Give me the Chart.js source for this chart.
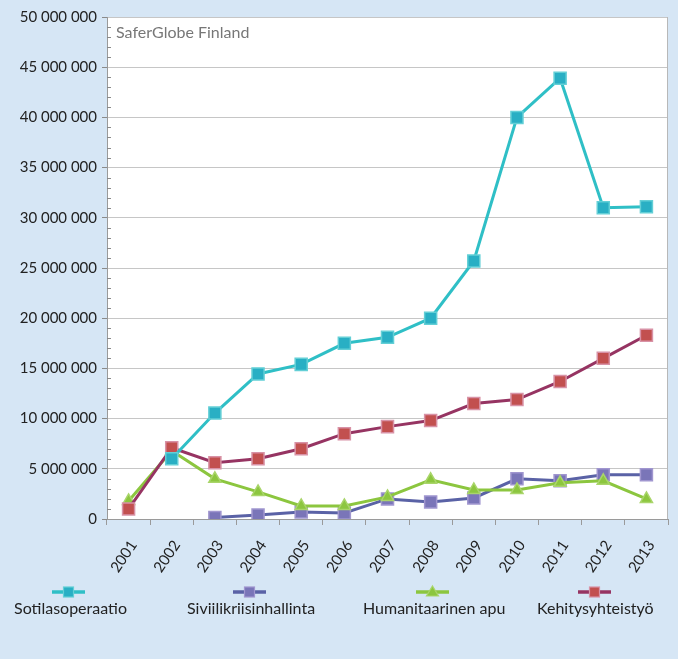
<!DOCTYPE html>
<html><head><meta charset="utf-8">
<script src="https://cdn.jsdelivr.net/npm/chart.js@4"></script>
<style>html,body{margin:0;padding:0;background:#d6e6f5;}#wrap{width:678px;height:659px;position:relative;}</style>
</head><body><div id="wrap"><canvas id="c" width="678" height="659"></canvas></div>
<script>
const years = ['2001','2002','2003','2004','2005','2006','2007','2008','2009','2010','2011','2012','2013'];
const sotilasoperaatio = [null,6000000,10550000,14450000,15400000,17500000,18100000,20000000,25700000,40000000,43900000,31000000,31100000];
const siviilikriisinhallinta = [null,null,150000,400000,700000,600000,2000000,1700000,2100000,4000000,3800000,4400000,4400000];
const humanitaarinenApu = [1800000,6800000,4000000,2700000,1300000,1300000,2200000,3900000,2900000,2900000,3600000,3800000,2000000];
const kehitysyhteistyo = [1000000,7100000,5600000,6000000,7000000,8500000,9200000,9800000,11500000,11900000,13700000,16000000,18300000];
const seriesNames = ['Sotilasoperaatio','Siviilikriisinhallinta','Humanitaarinen apu','Kehitysyhteistyö'];
const sourceText = 'SaferGlobe Finland';
const FONT = 'Lato, sans-serif';

const styles = [
  {line:'#2fbfc6', fill:'#29afc4', border:'#63cfd6', style:'rect', r:8.5},
  {line:'#5a62a6', fill:'#7a75b8', border:'#a096cf', style:'rect', r:8.5},
  {line:'#8cc63f', fill:'#8cc63f', border:'#a9d56a', style:'triangle', r:7},
  {line:'#963462', fill:'#c2504f', border:'#d892a6', style:'rect', r:8.5}
];
const dataArr = [sotilasoperaatio, siviilikriisinhallinta, humanitaarinenApu, kehitysyhteistyo];
const drawOrder = [0,3,2,1];

const datasets = [0,1,2,3].map(i => ({
  label: seriesNames[i], data: dataArr[i],
  borderColor: styles[i].line, borderWidth: 3,
  pointStyle: styles[i].style, pointRadius: styles[i].r, pointHoverRadius: styles[i].r,
  pointBackgroundColor: styles[i].fill, pointBorderColor: styles[i].border, pointBorderWidth: 1.5,
  tension: 0, spanGaps: false, fill: false, order: drawOrder.indexOf(i)
}));

const bgPlugin = {
  id:'bg',
  beforeDraw(chart){
    const {ctx, chartArea:a} = chart;
    ctx.save();
    ctx.fillStyle='#d6e6f5'; ctx.fillRect(0,0,chart.width,chart.height);
    ctx.fillStyle='#ffffff'; ctx.fillRect(a.left,a.top,a.right-a.left,a.bottom-a.top);
    ctx.restore();
  },
  afterDatasetsDraw(chart){
    const {ctx, chartArea:a, scales:{y}} = chart;
    ctx.save();
    ctx.strokeStyle='#b8b8b8'; ctx.lineWidth=1;
    ctx.beginPath(); ctx.moveTo(a.right-0.5,a.top); ctx.lineTo(a.right-0.5,a.bottom); ctx.stroke();
    ctx.strokeStyle='#8a8a8a';
    for(let v=0; v<=50000000; v+=1000000){
      if(v%5000000===0) continue;
      const py=Math.round(y.getPixelForValue(v))+0.5;
      ctx.beginPath(); ctx.moveTo(a.left,py); ctx.lineTo(a.left+4,py); ctx.stroke();
    }
    ctx.fillStyle='#777777'; ctx.font='16px '+FONT; ctx.textBaseline='middle'; ctx.textAlign='left';
    ctx.fillText(sourceText, a.left+9, a.top+16);
    const items=[{i:0,sx:52,tx:14},{i:1,sx:233,tx:187},{i:2,sx:416,tx:363},{i:3,sx:578,tx:537}];
    items.forEach(it=>{
      const s=styles[it.i];
      ctx.strokeStyle=s.line; ctx.lineWidth=3.5;
      ctx.beginPath(); ctx.moveTo(it.sx,592); ctx.lineTo(it.sx+33,592); ctx.stroke();
      ctx.fillStyle=s.fill; ctx.strokeStyle=s.border; ctx.lineWidth=1.2;
      const cx=it.sx+16.5;
      if(s.style==='triangle'){
        ctx.beginPath(); ctx.moveTo(cx,586); ctx.lineTo(cx+6,596); ctx.lineTo(cx-6,596); ctx.closePath(); ctx.fill(); ctx.stroke();
      } else {
        ctx.fillRect(cx-5,587,10,10); ctx.strokeRect(cx-5,587,10,10);
      }
      ctx.fillStyle='#222'; ctx.font='16px '+FONT; ctx.textBaseline='middle';
      ctx.fillText(seriesNames[it.i], it.tx, 609);
    });
    ctx.restore();
  }
};

new Chart(document.getElementById('c'), {
  type:'line',
  data:{labels:years, datasets},
  options:{
    responsive:false, animation:false, devicePixelRatio:1,
    layout:{padding:{top:17,right:10,left:0,bottom:0}},
    plugins:{legend:{display:false}, tooltip:{enabled:false}},
    scales:{
      x:{
        offset:true,
        grid:{offset:true, drawOnChartArea:false, drawTicks:true, tickLength:6, color:'#9a9a9a'},
        border:{color:'#9a9a9a', width:1},
        ticks:{color:'#222', font:{family:FONT, size:15}, minRotation:56, maxRotation:56, padding:12, labelOffset:5},
        afterFit(s){ s.height = 140; }
      },
      y:{
        min:0, max:50000000,
        ticks:{stepSize:5000000, color:'#222', font:{family:FONT, size:15}, padding:5,
          callback:v=> String(v).replace(/\B(?=(\d{3})+(?!\d))/g,' ')},
        grid:{color:'#c6c6c6', tickLength:5, tickColor:'#8a8a8a'},
        border:{color:'#9a9a9a', width:1},
        afterFit(s){ s.width = 107; }
      }
    }
  },
  plugins:[bgPlugin]
});
</script></body></html>
